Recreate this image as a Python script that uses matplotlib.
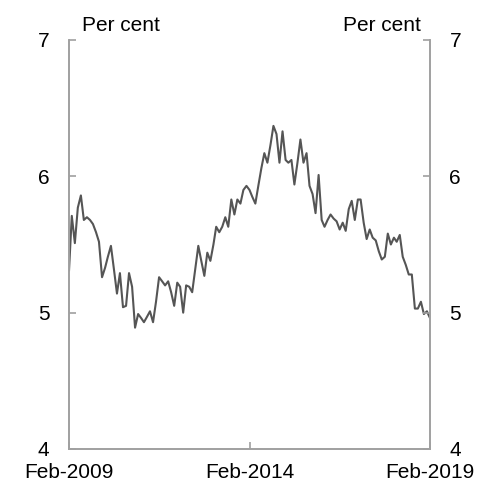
import pandas as pd
import matplotlib.pyplot as plt
import matplotlib.dates as mdates

plt.rcParams['font.family'] = ['Liberation Sans', 'DejaVu Sans']

# Monthly series, Feb-2009 to Feb-2019 (per cent)
start = '2009-02-01'
values = [
    5.31, 5.71, 5.51, 5.77, 5.86, 5.68, 5.70, 5.68, 5.65, 5.59,
    5.52, 5.26, 5.33, 5.41, 5.49, 5.32, 5.14, 5.29, 5.04, 5.05,
    5.29, 5.19, 4.89, 4.99, 4.96, 4.93, 4.97, 5.01, 4.93, 5.08,
    5.26, 5.23, 5.20, 5.23, 5.15, 5.05, 5.22, 5.19, 5.00, 5.20,
    5.19, 5.15, 5.32, 5.49, 5.38, 5.27, 5.44, 5.38, 5.50, 5.63,
    5.59, 5.63, 5.70, 5.63, 5.83, 5.72, 5.83, 5.80, 5.90, 5.93,
    5.90, 5.85, 5.80, 5.93, 6.06, 6.17, 6.10, 6.23, 6.37, 6.31,
    6.10, 6.33, 6.12, 6.10, 6.12, 5.94, 6.10, 6.27, 6.10, 6.17,
    5.93, 5.87, 5.73, 6.01, 5.68, 5.63, 5.68, 5.72, 5.69, 5.67,
    5.61, 5.66, 5.60, 5.76, 5.82, 5.68, 5.83, 5.83, 5.66, 5.54,
    5.61, 5.55, 5.53, 5.45, 5.39, 5.41, 5.58, 5.50, 5.55, 5.52,
    5.57, 5.41, 5.35, 5.28, 5.28, 5.03, 5.03, 5.08, 4.99, 5.01,
    4.96,
]
dates = pd.date_range(start, periods=len(values), freq='MS')

x_ticks = pd.to_datetime(['2009-02-01', '2014-02-01', '2019-02-01'])
y_ticks = [4, 5, 6, 7]
unit = 'Per cent'

spine_col = '#a0a0a0'
line_col = '#555555'
fs = 15

fig = plt.figure(figsize=(4.78, 4.83), dpi=100)
ax = fig.add_axes([0.1444, 0.0704, 0.7552, 0.8468])
ax.plot(dates, values, color=line_col, lw=1.5)

ax.set_xlim(x_ticks[0], x_ticks[-1])
ax.set_ylim(4, 7)
ax.set_xticks(x_ticks)
ax.xaxis.set_major_formatter(mdates.DateFormatter('%b-%Y'))
ax.set_yticks(y_ticks)

ax2 = ax.twinx()
ax2.set_ylim(4, 7)
ax2.set_yticks(y_ticks)

for a in (ax, ax2):
    a.spines['top'].set_visible(False)
    for s in ('left', 'right', 'bottom'):
        a.spines[s].set_color(spine_col)
        a.spines[s].set_linewidth(1.2)
    a.tick_params(direction='in', length=5, width=1.2, color=spine_col,
                  labelsize=fs, pad=14)
ax.tick_params(axis='x', pad=10)

ax.text(0.035, 1.012, unit, transform=ax.transAxes, fontsize=fs,
        ha='left', va='bottom')
ax.text(0.975, 1.012, unit, transform=ax.transAxes, fontsize=fs,
        ha='right', va='bottom')

fig.savefig('out.png', dpi=100)
